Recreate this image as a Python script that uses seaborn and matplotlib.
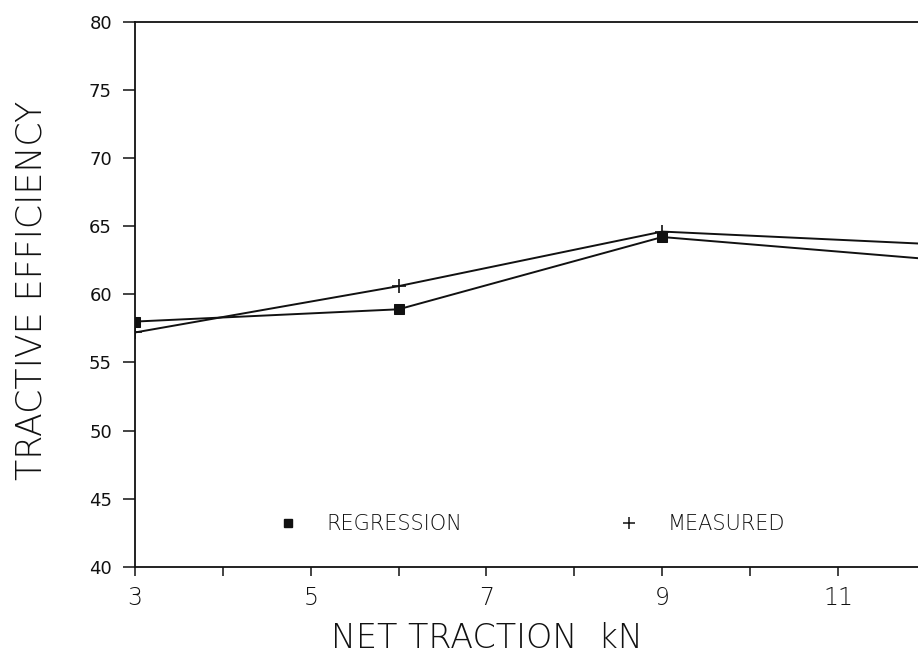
import matplotlib
matplotlib.use("Agg")
import matplotlib.pyplot as plt
from matplotlib.lines import Line2D
from matplotlib.ticker import MultipleLocator
import seaborn as sns
import pandas as pd

# Net traction (kN) and tractive efficiency (%)
net_traction = [3, 6, 9, 12]
regression = [58.0, 58.9, 64.2, 62.6]
measured = [57.2, 60.6, 64.6, 63.7]
series_names = ["REGRESSION", "MEASURED"]
x_tick_labels = ["3", "5", "7", "9", "11"]

reg_df = pd.DataFrame({"net_traction": net_traction, "efficiency": regression})
meas_df = pd.DataFrame({"net_traction": net_traction, "efficiency": measured})

sns.set_theme(style="white")
plt.rcParams["font.family"] = ["DejaVu Sans"]

fig = plt.figure(figsize=(9.18, 6.54), dpi=100)
ax = fig.add_axes([0.147, 0.133, 0.853, 0.834])

ink = "#111111"
text_ink = "#111111"
sns.lineplot(data=reg_df, x="net_traction", y="efficiency", color=ink,
             marker="s", markersize=6.5, markeredgecolor=ink, linewidth=1.4, ax=ax)
sns.lineplot(data=meas_df, x="net_traction", y="efficiency", color=ink,
             marker="+", markersize=10, markeredgecolor=ink, markeredgewidth=1.2,
             linewidth=1.4, ax=ax)

ax.set_xlim(3, 11.91)
ax.set_ylim(40, 80)
ax.set_xticks([3, 5, 7, 9, 11])
ax.set_xticklabels(x_tick_labels)
ax.xaxis.set_minor_locator(MultipleLocator(1))
ax.yaxis.set_major_locator(MultipleLocator(5))

for side in ("left", "bottom", "top"):
    ax.spines[side].set_color(ink)
    ax.spines[side].set_linewidth(1.3)
ax.spines["right"].set_visible(False)

ax.tick_params(axis="both", which="both", direction="out", width=1.1,
               color=ink, labelcolor=text_ink)
ax.tick_params(axis="x", which="both", bottom=True, length=6.5, pad=7, labelsize=17)
ax.tick_params(axis="y", which="both", left=True, length=8.6, pad=8, labelsize=13)
for lbl in ax.get_xticklabels():
    lbl.set_fontweight("light")

ax.set_xlabel("NET TRACTION  kN", fontsize=24, color=text_ink, fontweight="light")
ax.xaxis.set_label_coords(0.450, -0.100)
ax.set_ylabel("TRACTIVE EFFICIENCY", fontsize=25, color=text_ink, fontweight="light")
ax.yaxis.set_label_coords(-0.111, 0.508)

handles = [
    Line2D([], [], color=ink, marker="s", linestyle="none", markersize=6),
    Line2D([], [], color=ink, marker="+", linestyle="none", markersize=8, markeredgewidth=1.1),
]
ax.legend(handles, series_names, loc="center left", bbox_to_anchor=(0.158, 0.079),
          ncol=2, frameon=False, handlelength=1.0, handletextpad=1.35,
          columnspacing=7.5, prop={"size": 15, "weight": "light"})
for t in ax.get_legend().get_texts():
    t.set_color(text_ink)

fig.savefig("out.png", dpi=100, facecolor="white")
